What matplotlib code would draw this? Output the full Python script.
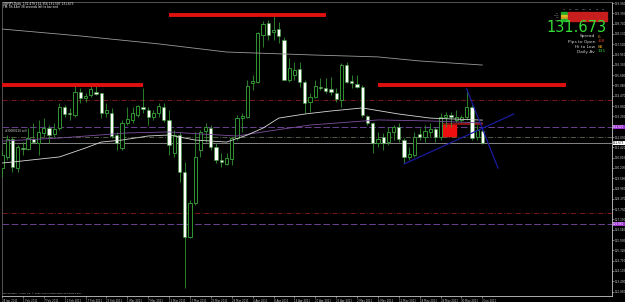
import matplotlib
matplotlib.use("Agg")
import matplotlib.pyplot as plt
from matplotlib.patches import Rectangle
import numpy as np

# GBPJPY daily bars (open, high, low, close)
opens = [130.19, 130.85, 131.91, 130.19, 131.38, 131.32, 131.91, 131.67, 132.27, 132.56,
         132.21, 132.56, 133.81, 133.45, 133.33, 134.69, 134.34, 134.52, 134.69, 134.63,
         133.45, 133.45, 132.15, 131.38, 132.86, 133.04, 133.33, 133.81, 133.63, 133.21,
         133.45, 133.81, 133.04, 131.08, 132.15, 129.96, 126.11, 128.12, 131.26, 132.38,
         132.56, 131.44, 130.67, 130.43, 130.73, 131.97, 133.15, 133.21, 135.23, 135.29,
         138.07, 138.78, 138.25, 138.42, 137.77, 135.40, 135.70, 136.06, 135.29, 134.10,
         134.40, 134.99, 134.93, 134.87, 134.63, 134.22, 136.29, 135.35, 135.17, 134.99,
         133.27, 132.86, 131.67, 132.03, 131.73, 132.33, 132.62, 131.85, 130.85, 130.96,
         132.21, 132.03, 132.33, 132.50, 132.03, 133.21, 133.33, 133.04, 133.04, 133.21,
         133.81, 132.03, 132.356]
highs = [131.26, 132.15, 132.03, 131.56, 131.73, 132.56, 132.86, 133.04, 133.15, 132.74,
         132.86, 134.04, 133.92, 133.75, 135.11, 134.93, 134.63, 135.11, 135.11, 134.63,
         134.04, 133.75, 132.33, 133.04, 133.81, 133.81, 133.92, 134.93, 133.81, 133.63,
         134.04, 134.04, 133.63, 132.44, 132.33, 130.55, 128.30, 132.33, 132.44, 132.86,
         132.74, 131.67, 131.08, 131.08, 132.03, 133.33, 133.45, 135.40, 135.70, 138.25,
         138.90, 138.96, 139.25, 138.84, 137.95, 136.71, 136.47, 136.47, 135.40, 134.63,
         135.40, 135.52, 135.52, 135.58, 134.93, 136.41, 136.47, 135.70, 135.70, 135.11,
         133.33, 132.92, 132.33, 132.27, 132.62, 132.74, 132.86, 131.97, 131.44, 132.33,
         132.56, 132.74, 132.86, 132.62, 133.45, 133.51, 133.51, 133.63, 133.33, 134.87,
         133.92, 132.74, 132.479]
lows = [129.66, 130.67, 129.96, 129.96, 130.96, 131.26, 131.67, 130.96, 132.03, 131.67,
        132.03, 132.44, 133.21, 133.04, 133.21, 134.04, 134.10, 134.40, 134.52, 133.15,
        133.21, 131.97, 131.26, 131.26, 132.74, 132.86, 133.21, 133.45, 132.74, 133.04,
        133.21, 132.92, 130.96, 130.85, 129.37, 123.09, 126.05, 128.00, 130.85, 131.73,
        131.26, 130.49, 130.25, 130.37, 130.37, 131.85, 132.33, 133.15, 134.81, 135.23,
        137.36, 137.77, 137.77, 137.59, 135.40, 135.29, 135.40, 134.99, 133.45, 133.51,
        134.34, 134.81, 134.63, 134.52, 134.10, 133.81, 135.23, 134.93, 134.93, 133.21,
        132.74, 131.08, 131.44, 131.26, 131.56, 131.85, 131.73, 130.49, 130.67, 130.85,
        131.85, 131.73, 132.03, 131.73, 131.85, 132.62, 132.62, 132.92, 132.92, 133.04,
        131.85, 131.85, 131.597]
closes = [130.96, 131.91, 130.25, 131.44, 131.32, 131.97, 131.73, 132.33, 132.56, 132.15,
          132.50, 133.81, 133.39, 133.39, 134.69, 134.34, 134.46, 134.87, 134.58, 133.45,
          133.63, 132.09, 131.67, 132.86, 133.10, 133.45, 133.87, 133.69, 133.21, 133.45,
          133.87, 133.04, 131.56, 132.15, 129.96, 126.11, 128.12, 130.85, 132.33, 132.62,
          131.44, 130.67, 130.55, 130.79, 131.97, 133.15, 133.27, 135.05, 135.35, 138.19,
          138.72, 138.07, 138.36, 138.01, 135.40, 136.11, 136.00, 135.29, 134.04, 134.40,
          135.05, 134.93, 134.75, 134.69, 134.28, 136.29, 135.29, 135.23, 134.99, 133.33,
          132.86, 131.67, 131.91, 131.67, 132.33, 132.62, 131.91, 130.85, 131.02, 132.03,
          132.03, 132.38, 132.50, 132.03, 133.21, 133.33, 133.21, 133.21, 133.21, 133.81,
          131.97, 132.44, 131.673]

date_labels = ["28 Jan 2011", "1 Feb 2011", "7 Feb 2011", "11 Feb 2011", "17 Feb 2011",
               "23 Feb 2011", "1 Mar 2011", "7 Mar 2011", "11 Mar 2011", "17 Mar 2011",
               "23 Mar 2011", "29 Mar 2011", "4 Apr 2011", "8 Apr 2011", "14 Apr 2011",
               "20 Apr 2011", "26 Apr 2011", "2 May 2011", "6 May 2011", "12 May 2011",
               "18 May 2011", "24 May 2011", "30 May 2011", "3 Jun 2011"]

price_ticks = [139.96, 139.35, 138.74, 138.13, 137.52, 136.91, 136.30, 135.69, 135.08,
               134.47, 133.86, 133.25, 132.03, 131.42, 130.81, 130.20, 129.59,
               128.98, 128.37, 127.76, 127.15, 126.54, 125.93, 125.32, 124.71, 124.10,
               123.49, 122.88]

# moving averages (bar index, price)
ma_slow_x = [0, 15, 30, 43, 60, 72, 80, 92]
ma_slow_y = [138.42, 138.01, 137.54, 137.06, 136.88, 136.77, 136.53, 136.29]
ma_fast_x = [0, 2, 11, 16, 19, 23, 28, 32, 37, 43, 47, 50, 53, 58, 63, 69, 76, 82, 92]
ma_fast_y = [130.49, 130.55, 130.85, 131.38, 131.73, 131.85, 132.09, 132.15, 131.85, 131.73,
             132.15, 132.56, 133.15, 133.39, 133.57, 133.75, 133.39, 133.15, 133.03]
ma_mid_x = [0, 11, 24, 32, 38, 45, 50, 59, 72, 82, 92]
ma_mid_y = [131.79, 131.97, 132.27, 132.33, 132.21, 132.09, 132.33, 132.74, 133.04, 132.98, 132.86]

# horizontal levels
red_levels = [134.22, 127.53]
purple_levels = [132.62, 126.88]
order_level = 132.03
bid = 131.673

# resistance lines: (start bar, end bar, price)
resist = [(0, 27, 135.10), (32, 62, 139.25), (72, 108, 135.10)]
# trend lines: (x0, y0, x1, y1)
trend = [(77, 130.43, 98, 133.39), (89, 134.87, 95, 130.19)]

# panel of signals
tf_names = ["M1", "M5", "M15", "M30", "H1", "H4", "D1"]
row_names = ["MA", "MACD", "STR", "EMA"]
cell_colors = [["#1fae2a", "#c81e1e", "#c81e1e", "#c81e1e", "#c81e1e", "#c81e1e", "#c81e1e"],
               ["#d8c020", "#c81e1e", "#c81e1e", "#c81e1e", "#c81e1e", "#c81e1e", "#c81e1e"],
               ["#d8a020", "#c81e1e", "#c81e1e", "#c81e1e", "#c81e1e", "#c81e1e", "#c81e1e"],
               ["#1fae2a", "#c81e1e", "#c81e1e", "#c81e1e", "#c81e1e", "#c81e1e", "#c81e1e"]]
info_names = ["Spread", "Pips to Open", "Hi to Low", "Daily Av"]
info_vals = ["6", "-68", "88", "131"]
info_cols = ["#e08a20", "#e04020", "#e0a020", "#30d030"]

W, H = 625, 302
fig = plt.figure(figsize=(W / 100, H / 100), dpi=100, facecolor="black")
ax = fig.add_axes([2 / W, 6 / H, 610 / W, 294 / H])
ax.set_facecolor("black")
ax.set_xlim(0.19, 116.83)
ax.set_ylim(122.62, 140.02)

green = "#319531"
n = len(opens)
idx = np.arange(n)
o = np.array(opens)
c = np.array(closes)

ax.vlines(idx, lows, highs, color=green, lw=0.6, zorder=3)
bull = c >= o
body_lo = np.minimum(o, c)
body_h = np.maximum(np.abs(c - o), 0.025)
ax.bar(idx[bull], body_h[bull], bottom=body_lo[bull], width=0.62,
       color="black", edgecolor=green, lw=0.7, zorder=4)
ax.bar(idx[~bull], body_h[~bull], bottom=body_lo[~bull], width=0.62,
       color="white", edgecolor=green, lw=0.4, zorder=4)

for lv in red_levels:
    ax.axhline(lv, color="#8e1c1c", lw=0.6, ls=(0, (6, 2, 1, 2)), zorder=1)
for lv in purple_levels:
    ax.axhline(lv, color="#7a4ca8", lw=0.6, ls=(0, (8, 3)), zorder=1)
ax.axhline(order_level, color="#5f6f4f", lw=0.6, ls=(0, (6, 2, 1, 2)), zorder=1)
ax.axhline(bid, color="#b8b8b8", lw=0.5, zorder=1)

ax.add_patch(Rectangle((83.9, 132.09), 3.1, 0.65, color="#ee1010", zorder=2))
ax.plot([84, 92], [132.80, 132.80], color="#a01818", lw=1.2, zorder=2)

ax.plot(ma_slow_x, ma_slow_y, color="#9a9a9a", lw=0.6, zorder=5)
ax.plot(ma_mid_x, ma_mid_y, color="#7d4fa0", lw=0.6, zorder=5)
ax.plot(ma_fast_x, ma_fast_y, color="#d8d8d8", lw=0.6, zorder=5)

for x0, x1, lv in resist:
    ax.plot([x0, x1], [lv, lv], color="#e01010", lw=2.8, solid_capstyle="butt", zorder=6)
for x0, y0, x1, y1 in trend:
    ax.plot([x0, x1], [y0, y1], color="#1a1aa0", lw=0.9, zorder=6)

ax.text(0.6, 132.30, "#30089126 sell", color="#d0d0d0", fontsize=2.0, zorder=7)

# axes styling
for s in ["top", "left"]:
    ax.spines[s].set_color("#606060")
    ax.spines[s].set_linewidth(0.6)
for s in ["right", "bottom"]:
    ax.spines[s].set_color("#c8c8c8")
    ax.spines[s].set_linewidth(0.6)
ax.yaxis.tick_right()
ax.set_yticks(price_ticks)
ax.set_yticklabels(["%.3f" % v for v in price_ticks])
ax.tick_params(axis="y", colors="#c8c8c8", labelsize=2.0, length=1.5, width=0.4, pad=0.4)
ax.set_xticks(idx[::4])
ax.set_xticklabels(date_labels, ha="left")
ax.tick_params(axis="x", colors="#c8c8c8", labelsize=1.9, length=1.5, width=0.4, pad=0.5)

# price boxes on the axis
for lv, fc, tc in [(purple_levels[0], "#9b30d0", "white"),
                   (purple_levels[1], "#9b30d0", "white"),
                   (bid, "white", "black")]:
    ax.text(1.002, lv, "%.3f" % lv, transform=ax.get_yaxis_transform(), fontsize=2.0,
            color=tc, va="center", ha="left", clip_on=False,
            bbox=dict(boxstyle="square,pad=0.15", fc=fc, ec="none"))


def px(x, y):
    return x / W, 1 - y / H


fig.text(*px(3, 4), "GBPJPY,Daily  132.479 132.356 131.597 131.673", color="white",
         fontsize=2.1, va="center")
fig.text(*px(3, 7.5), "TM: 0h 44m 38 seconds left to bar end", color="white",
         fontsize=2.1, va="center")
fig.text(*px(3, 293), "MetaTrader - Alpari UK, \u00a9 2001-2010 MetaQuotes Software Corp.",
         color="#c8c8c8", fontsize=1.7, va="center")

# signal panel
for j, name in enumerate(tf_names):
    fig.text(*px(564 + 6.6 * j, 10), name, color="#b0b0b0", fontsize=1.5,
             ha="center", va="center")
for r, name in enumerate(row_names):
    fig.text(*px(559, 13 + 2.4 * r), name, color="#b0b0b0", fontsize=1.3,
             ha="right", va="center")
    for j in range(len(tf_names)):
        x0, y0 = px(561 + 6.6 * j, 14 + 2.4 * r)
        fig.add_artist(Rectangle((x0, y0), 6.0 / W, 1.8 / H, transform=fig.transFigure,
                                 color=cell_colors[r][j]))
fig.text(*px(607, 28), "%.3f" % bid, color="#33dd33", fontsize=10.5,
         ha="right", va="center")
for r, name in enumerate(info_names):
    fig.text(*px(595, 36.5 + 5 * r), name, color="#d0d0d0", fontsize=3.2,
             ha="right", va="center")
    fig.text(*px(598, 36.5 + 5 * r), info_vals[r], color=info_cols[r], fontsize=3.2,
             ha="left", va="center")

fig.savefig("out.png", dpi=100, facecolor="black")
